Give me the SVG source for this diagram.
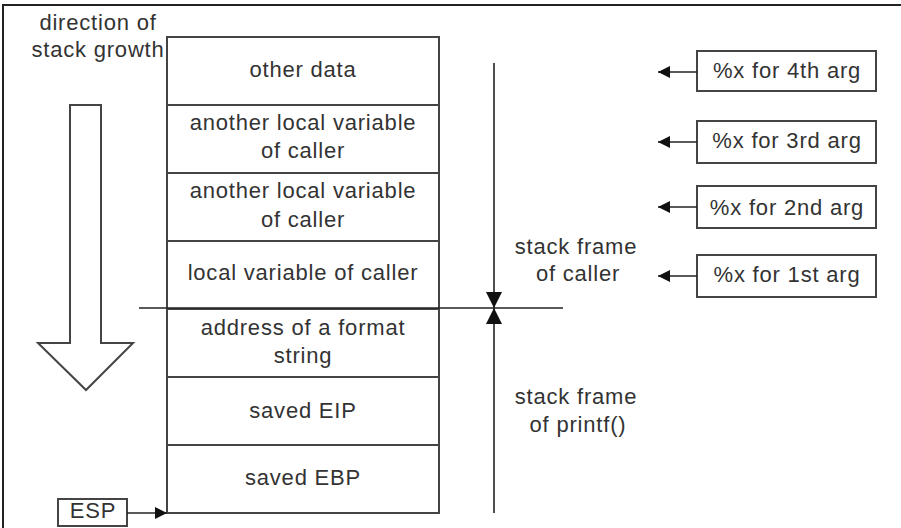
<svg xmlns="http://www.w3.org/2000/svg" width="901" height="528" viewBox="0 0 901 528">
<defs>
<style>
text{font-family:"Liberation Sans",Arial,sans-serif;font-size:22px;letter-spacing:0.8px;fill:#333;text-anchor:middle}
.cell{fill:#fff;stroke:#444;stroke-width:2}
.box{fill:#fff;stroke:#444;stroke-width:2}
.ln{stroke:#222;stroke-width:1.6;fill:none}
.frame{stroke:#222;stroke-width:2;fill:none}
</style>
<marker id="ah" viewBox="0 0 12 12" refX="12" refY="6" markerWidth="12" markerHeight="12" markerUnits="userSpaceOnUse" orient="auto">
<path d="M0,0 L12,6 L0,12 Z" fill="#111"/>
</marker>
<marker id="ah2" viewBox="0 0 16 16" refX="16" refY="8" markerWidth="16" markerHeight="16" markerUnits="userSpaceOnUse" orient="auto">
<path d="M0,0 L16,8 L0,16 Z" fill="#111"/>
</marker>
</defs>
<path class="frame" d="M3,528 V5 H901"/>
<g id="growth">
<text x="98" y="30">direction of</text>
<text x="98" y="57">stack growth</text>
<path d="M70,105 H101 V343 H133 L86,390 L38,343 H70 Z" fill="#fff" stroke="#444" stroke-width="2"/>
</g>
<g id="stack">
<rect class="cell" x="167" y="37" width="272" height="68"/>
<text x="303" y="77">other data</text>
<rect class="cell" x="167" y="105" width="272" height="68"/>
<text x="303" y="130">another local variable</text>
<text x="303" y="158">of caller</text>
<rect class="cell" x="167" y="173" width="272" height="68"/>
<text x="303" y="198">another local variable</text>
<text x="303" y="227">of caller</text>
<rect class="cell" x="167" y="241" width="272" height="68"/>
<text x="303" y="280">local variable of caller</text>
<rect class="cell" x="167" y="309" width="272" height="68"/>
<text x="303" y="335">address of a format</text>
<text x="303" y="363">string</text>
<rect class="cell" x="167" y="377" width="272" height="68"/>
<text x="303" y="418">saved EIP</text>
<rect class="cell" x="167" y="445" width="272" height="68"/>
<text x="303" y="485">saved EBP</text>
</g>
<g id="esp">
<rect class="box" x="58" y="499" width="69" height="27"/>
<text x="93" y="518">ESP</text>
</g>
<g id="frame-caller">
<text x="576" y="254">stack frame</text>
<text x="578" y="281">of caller</text>
</g>
<g id="frame-printf">
<text x="576" y="404">stack frame</text>
<text x="578" y="432">of printf()</text>
</g>
<g id="arg4"><rect class="box" x="697" y="51" width="179" height="40"/><text x="787" y="78">%x for 4th arg</text></g>
<g id="arg3"><rect class="box" x="697" y="121" width="179" height="42"/><text x="787" y="148">%x for 3rd arg</text></g>
<g id="arg2"><rect class="box" x="697" y="186" width="179" height="42"/><text x="787" y="215">%x for 2nd arg</text></g>
<g id="arg1"><rect class="box" x="697" y="255" width="179" height="42"/><text x="787" y="282">%x for 1st arg</text></g>
<g id="connectors">
<line class="ln" x1="139" y1="308" x2="563" y2="308" stroke="#444"/>
<line class="ln" x1="494" y1="63" x2="494" y2="308" marker-end="url(#ah2)"/>
<line class="ln" x1="494" y1="513" x2="494" y2="308" marker-end="url(#ah2)"/>
<line class="ln" x1="127" y1="513" x2="167" y2="513" marker-end="url(#ah)"/>
<line class="ln" x1="697" y1="72" x2="658" y2="72" marker-end="url(#ah)"/>
<line class="ln" x1="697" y1="142" x2="658" y2="142" marker-end="url(#ah)"/>
<line class="ln" x1="697" y1="207" x2="658" y2="207" marker-end="url(#ah)"/>
<line class="ln" x1="697" y1="276" x2="658" y2="276" marker-end="url(#ah)"/>
</g>
</svg>
